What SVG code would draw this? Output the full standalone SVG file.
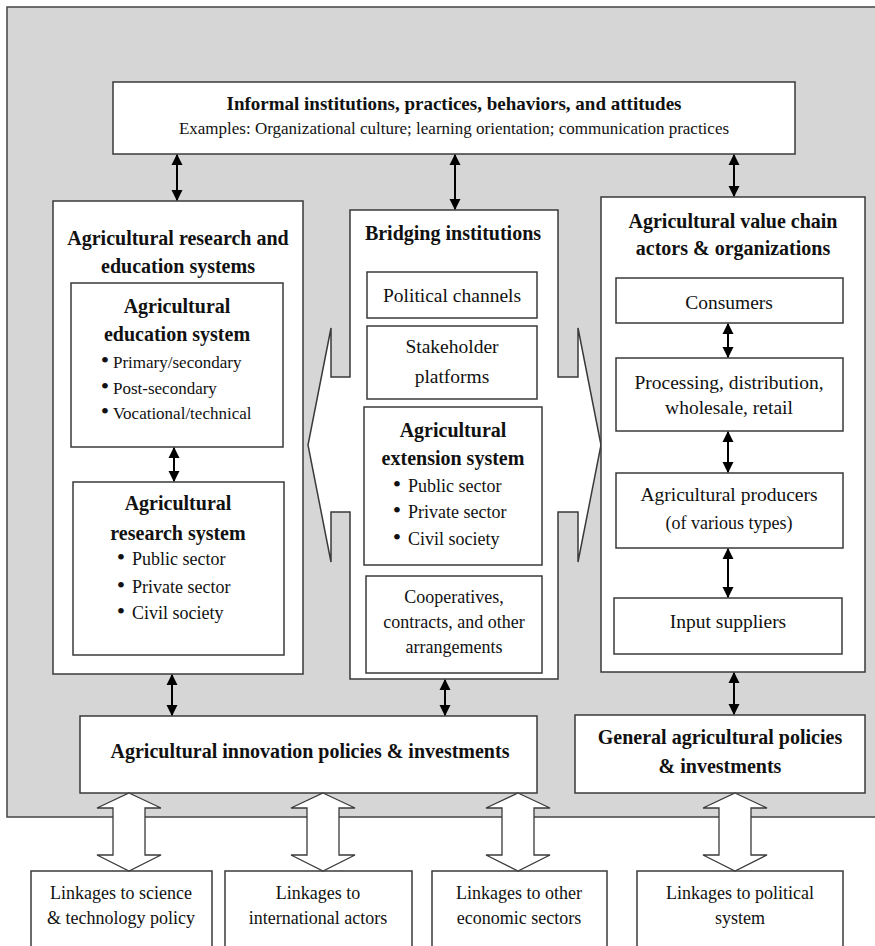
<svg xmlns="http://www.w3.org/2000/svg" width="875" height="946" viewBox="0 0 875 946">
<style>
.box{fill:#fff;stroke:#3a3a3a;stroke-width:1.5}
.t{font-family:"Liberation Serif","Times New Roman",serif;fill:#111;text-anchor:middle}
.b{font-weight:bold;font-size:20px}
.r{font-size:19.5px}
.s{font-size:18px}
.l{text-anchor:start}
.d{font-size:24px}
.con{stroke:#000;stroke-width:2;fill:none;marker-start:url(#ah);marker-end:url(#ah)}
.blk{fill:#fff;stroke:#3a3a3a;stroke-width:1.3}
</style>
<defs>
<marker id="ah" viewBox="0 0 10 10" refX="9" refY="5" markerWidth="11" markerHeight="12" markerUnits="userSpaceOnUse" orient="auto-start-reverse">
<path d="M0,0 L10,5 L0,10 Z" fill="#000"/>
</marker>
</defs>
<rect x="7" y="7" width="880" height="810" fill="#d6d6d6" stroke="#444" stroke-width="1.5"/>

<g id="informal">
<rect class="box" x="113" y="82" width="682" height="72"/>
<text class="t" x="454" y="110" style="font-weight:bold;font-size:19px">Informal institutions, practices, behaviors, and attitudes</text>
<text class="t" x="454" y="134" style="font-size:17px">Examples: Organizational culture; learning orientation; communication practices</text>
</g>

<g id="research-education">
<rect class="box" x="53" y="201" width="250" height="473"/>
<text class="t b" x="178" y="245">Agricultural research and</text>
<text class="t b" x="178" y="273">education systems</text>
</g>
<g id="education">
<rect class="box" x="71" y="283" width="212" height="164"/>
<text class="t b" x="177" y="313">Agricultural</text>
<text class="t b" x="177" y="341">education system</text>
<text class="t l" x="100.8" y="368" style="font-size:17px"><tspan class="d">•</tspan><tspan dx="3.8">Primary/secondary</tspan></text>
<text class="t l" x="100.8" y="394" style="font-size:17px"><tspan class="d">•</tspan><tspan dx="3.8">Post-secondary</tspan></text>
<text class="t l" x="100.8" y="419" style="font-size:17px"><tspan class="d">•</tspan><tspan dx="3.8">Vocational/technical</tspan></text>
</g>
<g id="research">
<rect class="box" x="73" y="482" width="211" height="173"/>
<text class="t b" x="178" y="510">Agricultural</text>
<text class="t b" x="178" y="540">research system</text>
<text class="t l s" x="116.8" y="565"><tspan class="d">•</tspan><tspan dx="6.8">Public sector</tspan></text>
<text class="t l s" x="116.8" y="593"><tspan class="d">•</tspan><tspan dx="6.8">Private sector</tspan></text>
<text class="t l s" x="116.8" y="619"><tspan class="d">•</tspan><tspan dx="6.8">Civil society</tspan></text>
</g>

<g id="bridging">
<path class="box" d="M350,210 H558 V377 H578 V328 L601,445 L578,562 V512 H558 V679 H350 V512 H331 V562 L308,445 L331,328 V377 H350 Z"/>
<text class="t b" x="453" y="240">Bridging institutions</text>
</g>
<g id="political-channels">
<rect class="box" x="367" y="272" width="170" height="46"/>
<text class="t r" x="452" y="302">Political channels</text>
</g>
<g id="stakeholder">
<rect class="box" x="367" y="326" width="170" height="73"/>
<text class="t r" x="452" y="353">Stakeholder</text>
<text class="t r" x="452" y="383">platforms</text>
</g>
<g id="extension">
<rect class="box" x="364" y="407" width="178" height="158"/>
<text class="t b" x="453" y="437">Agricultural</text>
<text class="t b" x="453" y="465">extension system</text>
<text class="t l s" x="392.8" y="492"><tspan class="d">•</tspan><tspan dx="6.8">Public sector</tspan></text>
<text class="t l s" x="392.8" y="518"><tspan class="d">•</tspan><tspan dx="6.8">Private sector</tspan></text>
<text class="t l s" x="392.8" y="545"><tspan class="d">•</tspan><tspan dx="6.8">Civil society</tspan></text>
</g>
<g id="cooperatives">
<rect class="box" x="366" y="576" width="176" height="97"/>
<text class="t s" x="454" y="603">Cooperatives,</text>
<text class="t s" x="454" y="628">contracts, and other</text>
<text class="t s" x="454" y="653">arrangements</text>
</g>

<g id="value-chain">
<rect class="box" x="601" y="197" width="264" height="475"/>
<text class="t b" x="733" y="228">Agricultural value chain</text>
<text class="t b" x="733" y="255">actors &amp; organizations</text>
</g>
<g id="consumers">
<rect class="box" x="616" y="278" width="227" height="45"/>
<text class="t r" x="729" y="309">Consumers</text>
</g>
<g id="processing">
<rect class="box" x="616" y="358" width="227" height="73"/>
<text class="t r" x="729" y="389">Processing, distribution,</text>
<text class="t r" x="729" y="414">wholesale, retail</text>
</g>
<g id="producers">
<rect class="box" x="616" y="473" width="227" height="75"/>
<text class="t r" x="729" y="501">Agricultural producers</text>
<text class="t s" x="729" y="529">(of various types)</text>
</g>
<g id="input-suppliers">
<rect class="box" x="614" y="598" width="228" height="56"/>
<text class="t r" x="728" y="628">Input suppliers</text>
</g>

<g id="innovation-policies">
<rect class="box" x="80" y="716" width="457" height="77"/>
<text class="t b" x="310" y="758">Agricultural innovation policies &amp; investments</text>
</g>
<g id="general-policies">
<rect class="box" x="575" y="715" width="290" height="78"/>
<text class="t b" x="720" y="744">General agricultural policies</text>
<text class="t b" x="720" y="773">&amp; investments</text>
</g>

<g id="link-science">
<rect class="box" x="31" y="871" width="181" height="90"/>
<text class="t s" x="121" y="899">Linkages to science</text>
<text class="t s" x="121" y="924">&amp; technology policy</text>
</g>
<g id="link-international">
<rect class="box" x="225" y="871" width="187" height="90"/>
<text class="t s" x="318" y="899">Linkages to</text>
<text class="t s" x="318" y="924">international actors</text>
</g>
<g id="link-economic">
<rect class="box" x="432" y="871" width="175" height="90"/>
<text class="t s" x="519" y="899">Linkages to other</text>
<text class="t s" x="519" y="924">economic sectors</text>
</g>
<g id="link-political">
<rect class="box" x="637" y="871" width="206" height="90"/>
<text class="t s" x="740" y="899">Linkages to political</text>
<text class="t s" x="740" y="924">system</text>
</g>

<g id="connectors">
<line class="con" x1="177" y1="155" x2="177" y2="200"/>
<line class="con" x1="455" y1="155" x2="455" y2="209"/>
<line class="con" x1="734" y1="155" x2="734" y2="196"/>
<line class="con" x1="174" y1="448" x2="174" y2="481"/>
<line class="con" x1="728" y1="324" x2="728" y2="357"/>
<line class="con" x1="728" y1="432" x2="728" y2="472"/>
<line class="con" x1="728" y1="549" x2="728" y2="597"/>
<line class="con" x1="172" y1="675" x2="172" y2="715"/>
<line class="con" x1="445" y1="680" x2="445" y2="715"/>
<line class="con" x1="734" y1="673" x2="734" y2="714"/>
<path class="blk" d="M129,793 L161,808 H145 V855 H161 L129,871 L97,855 H113 V808 H97 Z"/>
<path class="blk" d="M323,793 L355,808 H339 V855 H355 L323,871 L291,855 H307 V808 H291 Z"/>
<path class="blk" d="M518,793 L550,808 H534 V855 H550 L518,871 L486,855 H502 V808 H486 Z"/>
<path class="blk" d="M735,793 L767,808 H751 V855 H767 L735,871 L703,855 H719 V808 H703 Z"/>
</g>
</svg>
